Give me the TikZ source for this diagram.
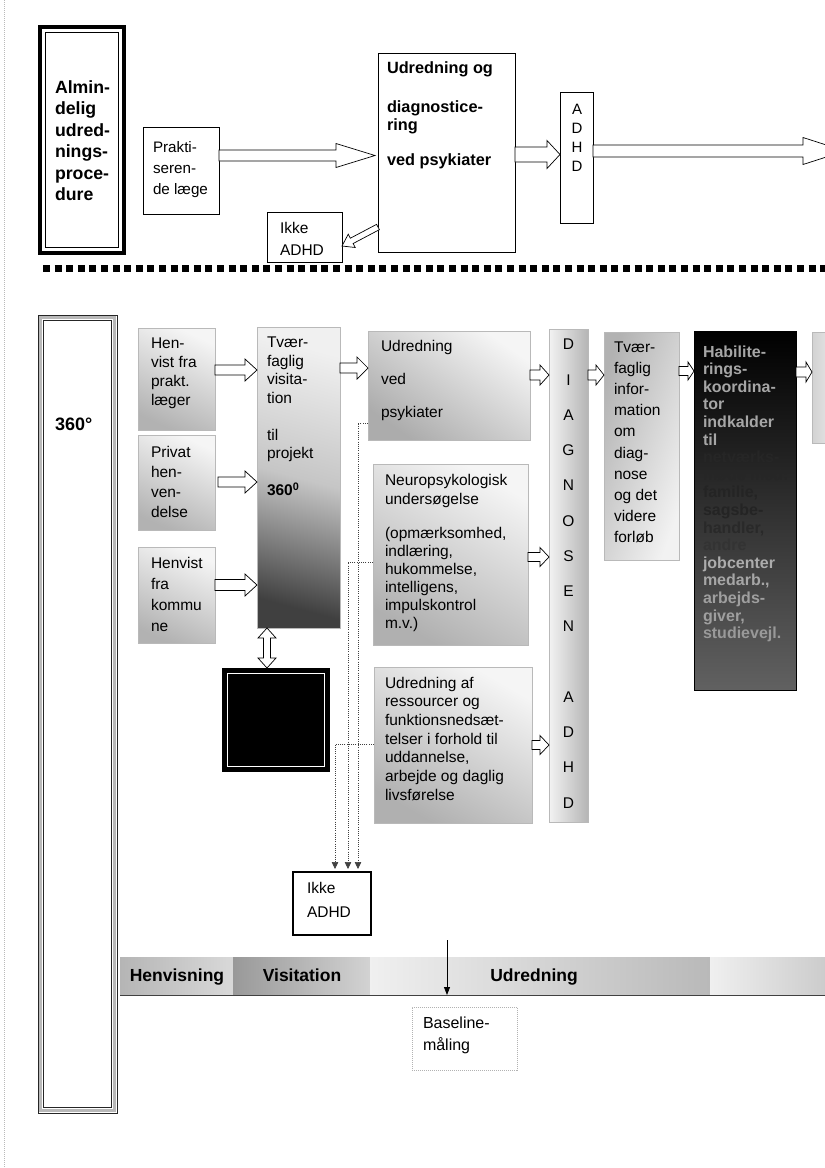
\documentclass[tikz,border=0pt]{standalone}
\usepackage{fontspec}
\setmainfont{Liberation Sans}
\usetikzlibrary{arrows.meta,calc}
\newcommand\blockarr[5]{%
  \path let \p1=#1, \p2=#2, \n1={atan2(\y2-\y1,\x2-\x1)}, \n2={veclen(\x2-\x1,\y2-\y1)} in
    \pgfextra{\pgfmathsetmacro\baang{\n1}\global\let\baang\baang\pgfmathsetmacro\balen{\n2}\global\let\balen\balen\xdef\bax{\x1}\xdef\bay{\y1}};
  \draw[harrow, shift={(\bax,\bay)}, rotate=\baang]
    (0pt,#3pt) -- ({\balen pt-#5pt},#3pt) -- ({\balen pt-#5pt},#4pt) -- (\balen pt,0pt)
    -- ({\balen pt-#5pt},-#4pt) -- ({\balen pt-#5pt},-#3pt) -- (0pt,-#3pt) -- cycle;
}
\newcommand\dblarr[5]{%
  \path let \p1=#1, \p2=#2, \n1={atan2(\y2-\y1,\x2-\x1)}, \n2={veclen(\x2-\x1,\y2-\y1)} in
    \pgfextra{\pgfmathsetmacro\baang{\n1}\global\let\baang\baang\pgfmathsetmacro\balen{\n2}\global\let\balen\balen\xdef\bax{\x1}\xdef\bay{\y1}};
  \draw[harrow, shift={(\bax,\bay)}, rotate=\baang]
    (0pt,0pt) -- (#5pt,#4pt) -- (#5pt,#3pt) -- ({\balen pt-#5pt},#3pt) -- ({\balen pt-#5pt},#4pt) -- (\balen pt,0pt)
    -- ({\balen pt-#5pt},-#4pt) -- ({\balen pt-#5pt},-#3pt) -- (#5pt,-#3pt) -- (#5pt,-#4pt) -- cycle;
}
\begin{document}
\begin{tikzpicture}[x=1pt,y=-1pt,
  bx/.style={anchor=north west, inner sep=0pt, outer sep=0pt, draw=black, line width=0.8pt, fill=white},
  sbx/.style={anchor=north west, inner sep=0pt, outer sep=0pt, draw=gray!55, line width=0.4pt},
  tx/.style={anchor=north west, inner sep=0pt, outer sep=0pt, align=left},
  harrow/.style={draw=black, line width=0.7pt, fill=white, line join=miter},
  dotcon/.style={draw=black!75, line width=0.6pt, dash pattern=on 1pt off 1.2pt, shorten >=3pt, -{Triangle[length=7pt,width=6.5pt]}},
  bartx/.style={inner sep=0pt, anchor=base, font=\bfseries\fontsize{17.5}{18}\selectfont}]
\useasboundingbox (0,0) rectangle (825,1168);
\clip (0,0) rectangle (825,1168);
\fill[white] (0,0) rectangle (825,1168);
\draw[gray!55, line width=0.5pt, dash pattern=on 1pt off 1pt] (4,0) -- (4,1168);

% ---------- top section ----------
\node[bx, line width=4.3pt, minimum width=84, minimum height=226] (alm) at (40.2,27.2) {};
\node[bx, fill=none, minimum width=73, minimum height=215] (almI) at (45.8,32.6) {};
\node[tx, font=\bfseries\fontsize{17.7}{21.5}\selectfont] (almT) at (55,78) {\strut Almin-\\delig\\udred-\\nings-\\proce-\\dure};

\node[bx, minimum width=76, minimum height=87] (prakt) at (143,127) {};
\node[tx, font=\fontsize{15.2}{21}\selectfont] (praktT) at (153,137.3) {\strut Prakti-\\seren-\\de læge};

\node[bx, minimum width=137, minimum height=199] (udrTop) at (378,53) {};
\node[tx, font=\bfseries\fontsize{16.3}{18.3}\selectfont] (udrTopT) at (387,60.2) {\strut Udredning og\\[20.7pt]diagnostice-\\ring\\[16.7pt]ved psykiater};

\node[bx, minimum width=33, minimum height=131] (adhdTop) at (560,92) {};
\node[tx, anchor=north, align=center, font=\fontsize{15}{18.8}\selectfont] (adhdTopT) at (577,101.8) {\strut A\\D\\H\\D};

\node[bx, minimum width=75, minimum height=50] (ikkeTop) at (267,212) {};
\node[tx, font=\fontsize{15.5}{22}\selectfont] (ikkeTopT) at (280,217.6) {\strut Ikke\\ADHD};

\coordinate (y155) at (0,155.5);
\coordinate (y154) at (0,154.5);
\coordinate (y151) at (0,151);
\coordinate (y227) at (0,227);
\coordinate (y246) at (0,246);
\coordinate (rend) at (845,151);
\blockarr{(prakt.east |- y155)}{($(udrTop.west |- y155)+(-3,0)$)}{5.5}{12}{39}
\blockarr{(udrTop.east |- y154)}{(adhdTop.west |- y154)}{7.5}{14}{13}
\blockarr{(adhdTop.east |- y151)}{(rend)}{6}{13.5}{42}
\blockarr{(udrTop.west |- y227)}{(ikkeTop.east |- y246)}{3}{7.5}{11}

% separator
\coordinate (sepL) at (43,268);
\coordinate (sepR) at (825,268);
\draw[line width=7pt, dash pattern=on 7pt off 4.6pt] (sepL) -- (sepR);

% ---------- bottom section ----------
\node[bx, fill=none, draw=black!85, minimum width=79, minimum height=798] (b360) at (38,315) {};
\node[bx, fill=none, draw=gray!55, line width=3pt, minimum width=73.5, minimum height=792.5] (b360m) at (40.75,317.75) {};
\node[bx, fill=none, draw=black!85, minimum width=68, minimum height=787] (b360i) at (43.5,320.5) {};
\node[tx, font=\bfseries\fontsize{18}{20}\selectfont] (t360) at (55,416) {\strut 360°};

\node[sbx, top color=gray!8, bottom color=gray!60, shading angle=-25, minimum width=77, minimum height=102] (hen1) at (138,328) {};
\node[tx, font=\fontsize{15.5}{19}\selectfont] (hen1T) at (151,334.7) {\strut Hen-\\vist fra\\prakt.\\læger};
\node[sbx, top color=gray!8, bottom color=gray!60, shading angle=-25, minimum width=77, minimum height=95] (hen2) at (138,435) {};
\node[tx, font=\fontsize{15.5}{20}\selectfont] (hen2T) at (151,443) {\strut Privat\\hen-\\ven-\\delse};
\node[sbx, top color=gray!8, bottom color=gray!60, shading angle=-25, minimum width=77, minimum height=96] (hen3) at (138,547) {};
\node[tx, font=\fontsize{15.5}{21}\selectfont] (hen3T) at (151,553.3) {\strut Henvist\\fra\\kommu\\ne};

\node[sbx, top color=gray!12, bottom color=black!75, middle color=gray!45, shading angle=-15, minimum width=83, minimum height=301] (tvis) at (257,327) {};
\node[tx, font=\fontsize{15.5}{18.5}\selectfont] (tvisT) at (267,335) {\strut Tvær-\\faglig\\visita-\\tion\\[18.5pt]til\\projekt\\[18.5pt]\textbf{360\textsuperscript{0}}};

\node[sbx, top color=gray!8, bottom color=gray!65, shading angle=-35, minimum width=162, minimum height=109] (udr) at (368,331) {};
\node[tx, font=\fontsize{15.5}{33}\selectfont] (udrT) at (381,327.9) {\strut Udredning\\ved\\psykiater};

\node[sbx, left color=gray!10, right color=gray!58, minimum width=39, minimum height=493] (diag) at (549,329) {};
\node[tx, anchor=north, align=center, font=\fontsize{15.5}{35.25}\selectfont] (diagT) at (568.5,325.3) {\strut D\\I\\A\\G\\N\\O\\S\\E\\N\\[35.25pt]A\\D\\H\\D};

\node[sbx, left color=gray!60, right color=gray!10, shading angle=70, minimum width=75, minimum height=228] (tinfo) at (604,332) {};
\node[tx, font=\fontsize{15.5}{21.2}\selectfont] (tinfoT) at (614,337.2) {\strut Tvær-\\faglig\\infor-\\mation\\om\\diag-\\nose\\og det\\videre\\forløb};

\node[sbx, draw=black, top color=black, bottom color=black!62, minimum width=102, minimum height=359] (hab) at (694,331) {};
\node[tx, font=\bfseries\fontsize{16}{17.6}\selectfont] (habT) at (703,344.7) {%
\strut\textcolor{gray!70}{Habilite-}\\\textcolor{gray!70}{rings-}\\\textcolor{gray!70}{koordina-}\\\textcolor{gray!70}{tor}\\\textcolor{gray!70}{indkalder}\\\textcolor{gray!70}{til}\\%
\textcolor{gray!30!black}{netværks-}\\\textcolor{gray!30!black}{møde med:}\\\textcolor{gray!28!black}{familie,}\\\textcolor{gray!28!black}{sagsbe-}\\\textcolor{gray!32!black}{handler,}\\\textcolor{gray!40!black}{andre}\\%
\textcolor{gray!65}{jobcenter}\\\textcolor{gray!70}{medarb.,}\\\textcolor{gray!75}{arbejds-}\\\textcolor{gray!75}{giver,}\\\textcolor{gray!80}{studievejl.}};

\node[sbx, left color=gray!35, right color=gray!12, minimum width=30, minimum height=111] (rbox) at (812,332) {};

\node[sbx, top color=gray!8, bottom color=gray!62, shading angle=-30, minimum width=155, minimum height=181] (neuro) at (373,464) {};
\node[tx, font=\fontsize{15.5}{18.1}\selectfont] (neuroT) at (385,473.3) {\strut Neuropsykologisk\\undersøgelse\\[16pt](opmærksomhed,\\indlæring,\\hukommelse,\\intelligens,\\impulskontrol\\m.v.)};

\node[sbx, top color=gray!8, bottom color=gray!62, shading angle=-30, minimum width=158, minimum height=156] (udraf) at (374,667) {};
\node[tx, font=\fontsize{15.5}{18.7}\selectfont] (udrafT) at (385,674.9) {\strut Udredning af\\ressourcer og\\funktionsnedsæt-\\telser i forhold til\\uddannelse,\\arbejde og daglig\\livsførelse};

\node[anchor=north west, inner sep=0pt, outer sep=0pt, fill=black, minimum width=108, minimum height=104] (blk) at (222,668) {};
\node[anchor=north west, inner sep=0pt, outer sep=0pt, draw=white, line width=1.3pt, minimum width=97, minimum height=93] (blkI) at (227.5,673.5) {};

\node[bx, line width=2.6pt, minimum width=78, minimum height=63] (ikke2) at (293,872) {};
\node[tx, font=\fontsize{15.5}{24}\selectfont] (ikke2T) at (307,876.2) {\strut Ikke\\ADHD};

% arrows bottom
\coordinate (y370) at (0,370);
\coordinate (y482) at (0,482);
\coordinate (y585) at (0,585);
\coordinate (y368) at (0,368);
\coordinate (y375) at (0,375);
\coordinate (y371) at (0,371);
\coordinate (y372) at (0,372);
\coordinate (y557) at (0,557);
\coordinate (y745) at (0,745);
\coordinate (y423) at (0,423);
\coordinate (y562) at (0,562);
\coordinate (y744) at (0,744);
\coordinate (v267) at (267,0);
\coordinate (v358) at (358,0);
\coordinate (v348) at (348,0);
\coordinate (v335) at (335,0);
\blockarr{(hen1.east |- y370)}{(tvis.west |- y370)}{5}{11}{12}
\blockarr{($(hen2.east |- y482)+(3,0)$)}{(tvis.west |- y482)}{5}{11}{12}
\blockarr{(hen3.east |- y585)}{(tvis.west |- y585)}{5.5}{11}{12}
\blockarr{(tvis.east |- y368)}{(udr.west |- y368)}{5}{11}{11}
\blockarr{(udr.east |- y375)}{(diag.west |- y375)}{5}{10}{9}
\blockarr{(diag.east |- y375)}{(tinfo.west |- y375)}{5}{10}{8}
\blockarr{(tinfo.east |- y371)}{(hab.west |- y371)}{4.5}{9}{6}
\blockarr{(hab.east |- y372)}{(rbox.west |- y372)}{5}{10}{6}
\blockarr{(neuro.east |- y557)}{(diag.west |- y557)}{4.5}{9.5}{9}
\blockarr{(udraf.east |- y745)}{(diag.west |- y745)}{4.5}{9.5}{9}
\dblarr{(tvis.south -| v267)}{(blk.north -| v267)}{3.5}{9}{10}

\draw[dotcon] (udr.west |- y423) -| (ikke2.north -| v358);
\draw[dotcon] (neuro.west |- y562) -| (ikke2.north -| v348);
\draw[dotcon] (udraf.west |- y744) -| (ikke2.north -| v335);

% time bar
\node[anchor=north west, inner sep=0pt, outer sep=0pt, left color=gray!58, right color=gray!30, minimum width=113, minimum height=38] (sHen) at (120,957) {};
\node[anchor=north west, inner sep=0pt, outer sep=0pt, left color=gray!80, right color=gray!35, minimum width=137, minimum height=38] (sVis) at (233,957) {};
\node[anchor=north west, inner sep=0pt, outer sep=0pt, left color=gray!12, right color=gray!55, minimum width=340, minimum height=38] (sUdr) at (370,957) {};
\node[anchor=north west, inner sep=0pt, outer sep=0pt, left color=gray!12, right color=gray!40, minimum width=115, minimum height=38] (sEnd) at (710,957) {};
\draw[gray!50!black, line width=0.8pt] (sHen.south west) -- (sEnd.south east);
\node[bartx] (tHen) at (177,981.5) {Henvisning};
\node[bartx] (tVis) at (302,981.5) {Visitation};
\node[bartx] (tUdr) at (534,981.5) {Udredning};

\node[anchor=north west, inner sep=0pt, outer sep=0pt, draw=gray!60, dash pattern=on 1pt off 1pt, line width=0.6pt, minimum width=105, minimum height=63] (base) at (412,1007) {};
\node[tx, font=\fontsize{16}{22}\selectfont] (baseT) at (423,1012.6) {\strut Baseline-\\måling};
\coordinate (bartop) at (447,940);
\draw[line width=0.8pt, -{Triangle[length=8pt,width=6pt]}] (bartop) -- (sUdr.south -| bartop);
\end{tikzpicture}
\end{document}
